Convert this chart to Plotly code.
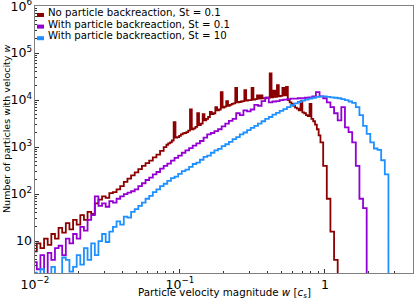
import plotly.graph_objects as go

# Bin centres (particle velocity magnitude w in units of c_s)
W = [0.01, 0.01059, 0.01122, 0.01189, 0.01259, 0.01334, 0.01413, 0.01496, 0.01585, 0.01679,
     0.01778, 0.01884, 0.01995, 0.02113, 0.02239, 0.02371, 0.02512, 0.02661, 0.02818, 0.02985,
     0.03162, 0.0335, 0.03548, 0.03758, 0.03981, 0.04217, 0.04467, 0.04732, 0.05012, 0.05309,
     0.05623, 0.05957, 0.0631, 0.06683, 0.07079, 0.07499, 0.07943, 0.08414, 0.08913, 0.09441,
     0.1, 0.1059, 0.1122, 0.1189, 0.1259, 0.1334, 0.1413, 0.1496, 0.1585, 0.1679,
     0.1778, 0.1884, 0.1995, 0.2113, 0.2239, 0.2371, 0.2512, 0.2661, 0.2818, 0.2985,
     0.3162, 0.335, 0.3548, 0.3758, 0.3981, 0.4217, 0.4467, 0.4732, 0.5012, 0.5309,
     0.5623, 0.5957, 0.631, 0.6683, 0.7079, 0.7499, 0.7943, 0.8414, 0.8913, 0.9441,
     1.0, 1.059, 1.122, 1.189, 1.259, 1.334, 1.413, 1.496, 1.585, 1.679,
     1.778, 1.884, 1.995, 2.113, 2.239, 2.371, 2.512, 2.661, 2.818]

# finer bins used by the no-backreaction run between w = 0.079 and 0.94
W_fine = [0.07943, 0.08175, 0.08414, 0.0866, 0.08913, 0.09173, 0.09441, 0.09716, 0.1, 0.1029,
          0.1059, 0.109, 0.1122, 0.1155, 0.1189, 0.1223, 0.1259, 0.1296, 0.1334, 0.1372,
          0.1413, 0.1454, 0.1496, 0.154, 0.1585, 0.1631, 0.1679, 0.1728, 0.1778, 0.183,
          0.1884, 0.1939, 0.1995, 0.2054, 0.2113, 0.2175, 0.2239, 0.2304, 0.2371, 0.2441,
          0.2512, 0.2585, 0.2661, 0.2738, 0.2818, 0.2901, 0.2985, 0.3073, 0.3162, 0.3255,
          0.335, 0.3447, 0.3548, 0.3652, 0.3758, 0.3868, 0.3981, 0.4097, 0.4217, 0.434,
          0.4467, 0.4597, 0.4732, 0.487, 0.5012, 0.5158, 0.5309, 0.5464, 0.5623, 0.5788,
          0.5957, 0.6131, 0.631, 0.6494, 0.6683, 0.6879, 0.7079, 0.7286, 0.7499, 0.7718,
          0.7943, 0.8175, 0.8414, 0.866, 0.8913, 0.9173, 0.9441]

# log10 of particle counts per bin
red_low_log10 = [0.78, 0.95, 0.85, 1.05, 0.92, 1.15, 1.05, 1.28, 1.18, 1.38,
                 1.25, 1.45, 1.35, 1.55, 1.45, 1.62, 1.58, 1.8, 1.88, 1.95,
                 1.92, 2.02, 2.04, 2.1, 2.17, 2.26, 2.33, 2.4, 2.46, 2.53,
                 2.6, 2.66, 2.71, 2.78, 2.84, 2.92]
red_fine_log10 = [3.0, 3.05, 3.08, 3.1, 3.14, 3.53, 3.2, 3.21, 3.24, 3.27,
                  3.29, 3.3, 3.32, 3.35, 3.8, 3.38, 3.4, 3.43, 3.72, 3.47,
                  3.5, 3.7, 3.57, 3.6, 3.64, 3.75, 3.7, 3.72, 3.85, 3.78,
                  3.8, 4.17, 3.84, 3.86, 3.98, 3.88, 3.9, 3.92, 3.93, 4.26,
                  3.95, 3.96, 3.97, 3.98, 4.21, 3.99, 4.0, 4.0, 4.26, 4.01,
                  4.02, 4.1, 4.03, 4.1, 4.04, 4.04, 4.05, 4.05, 4.57, 4.06,
                  4.2, 4.07, 4.32, 4.08, 4.09, 4.26, 4.1, 4.28, 4.0, 3.95,
                  3.92, 3.88, 3.84, 3.82, 3.78, 3.98, 3.74, 3.72, 3.68, 3.66,
                  3.92, 3.6, 3.55, 3.48, 3.38, 3.25, 3.1]
red_high_log10 = [2.6, 1.9, 1.2, 0.6, 0.0]

purple_log10 = [0.55, 0.4, 0.7, 0.25, 0.75, 0.6, 0.85, 0.9, 0.7, 1.05,
                0.95, 1.15, 1.05, 1.3, 1.22, 1.45, 1.55, 1.95, 1.75, 1.8,
                1.73, 1.85, 1.82, 1.9, 1.95, 2.0, 2.03, 2.06, 2.1, 2.17,
                2.23, 2.3, 2.35, 2.42, 2.47, 2.54, 2.6, 2.65, 2.71, 2.77,
                2.82, 2.88, 2.93, 2.98, 3.03, 3.08, 3.13, 3.2, 3.27, 3.3,
                3.34, 3.38, 3.44, 3.5, 3.56, 3.6, 3.72, 3.68, 3.78, 3.76,
                3.8, 3.9, 3.88, 3.98, 4.05, 3.95, 3.97, 3.98, 4.0, 4.01,
                4.02, 4.03, 4.03, 4.04, 4.04, 4.05, 4.06, 4.08, 4.17, 4.08,
                4.04, 3.95, 3.85, 3.72, 3.57, 3.85, 3.42, 3.32, 3.1, 2.6,
                1.9, 1.7, 0.0]

blue_log10 = [0.33, 0.1, 0.4, 0.1, 0.3, 0.45, 0.1, 0.3, 0.65, 0.6,
              0.35, 0.45, 0.7, 0.5, 0.85, 0.6, 0.95, 0.7, 1.0, 1.15,
              0.98, 1.2, 1.3, 1.42, 1.35, 1.52, 1.5, 1.62, 1.68, 1.75,
              1.82, 1.9, 1.96, 2.04, 2.1, 2.17, 2.22, 2.28, 2.34, 2.37,
              2.43, 2.49, 2.52, 2.58, 2.64, 2.67, 2.73, 2.79, 2.82, 2.88,
              2.93, 2.96, 3.02, 3.06, 3.11, 3.17, 3.21, 3.27, 3.31, 3.36,
              3.41, 3.45, 3.5, 3.55, 3.6, 3.64, 3.69, 3.73, 3.77, 3.81,
              3.85, 3.89, 3.93, 3.96, 3.99, 4.01, 4.03, 4.05, 4.07, 4.08,
              4.08, 4.07, 4.06, 4.05, 4.04, 4.02, 4.0, 3.97, 3.94, 3.85,
              3.68, 3.45, 3.28, 3.1, 2.97, 2.94, 2.72, 2.42, 0.0]

series_names = ["No particle backreaction, St = 0.1",
                "With particle backreaction, St = 0.1",
                "With particle backreaction, St = 10"]
series_colors = ["#8B0000", "#9400D3", "#1E90FF"]

red_w = W[:36] + W_fine + W[80:85]
red_log10 = red_low_log10 + red_fine_log10 + red_high_log10
series_w = [red_w, W[:len(purple_log10)], W[:len(blue_log10)]]
series_log10 = [red_log10, purple_log10, blue_log10]

FONT = "DejaVu Sans"
W_PX, H_PX = 415, 301
L, R, T, B = 35, 2, 6, 28
PW, PH = W_PX - L - R, H_PX - T - B

def px2paper(px, py):
    return (px - L) / PW, (H_PX - B - py) / PH

fig = go.Figure()
for name, col, xs, vals in zip(series_names, series_colors, series_w, series_log10):
    fig.add_trace(go.Scatter(
        x=xs, y=[10 ** v for v in vals], mode="lines", name=name,
        line=dict(color=col, width=1.8, shape="hvh"), showlegend=False))

# manual legend (small patch + text), upper left
shapes, annotations = [], []
for i, (name, col) in enumerate(zip(series_names, series_colors)):
    ty = 12.5 + 11.6 * i
    x0, y0 = px2paper(37, ty + 4.5)
    x1, y1 = px2paper(44, ty + 0.5)
    shapes.append(dict(type="rect", xref="paper", yref="paper", x0=x0, y0=y0, x1=x1, y1=y1,
                       fillcolor=col, line=dict(width=0)))
    ax, ay = px2paper(46, ty)
    annotations.append(dict(text=name, xref="paper", yref="paper", x=ax, y=ay,
                            xanchor="left", yanchor="middle", showarrow=False,
                            font=dict(family=FONT, size=10.2, color="black")))

# axis titles as annotations for exact placement
annotations.append(dict(text="Particle velocity magnitude <i>w</i> [<i>c</i><sub><i>s</i></sub>]",
                        xref="paper", yref="paper", x=px2paper(224, 0)[0], y=px2paper(0, 292.5)[1],
                        xanchor="center", yanchor="middle", showarrow=False,
                        font=dict(family=FONT, size=10.3, color="black")))
annotations.append(dict(text="Number of particles with velocity <i>w</i>",
                        xref="paper", yref="paper", x=px2paper(6, 0)[0], y=px2paper(0, 129)[1],
                        textangle=-90, xanchor="center", yanchor="middle", showarrow=False,
                        font=dict(family=FONT, size=9.5, color="black")))

axis_common = dict(type="log", dtick=1, exponentformat="power", ticks="inside", ticklen=4,
                   tickcolor="#333", showline=True, mirror=True, linecolor="#808080",
                   linewidth=1, showgrid=False, zeroline=False, automargin=False,
                   ticklabeloverflow="allow",
                   tickfont=dict(family=FONT, size=10, color="black"),
                   minor=dict(ticks="inside", ticklen=2, tickcolor="#333", dtick="D1", showgrid=False))

fig.update_layout(
    width=W_PX, height=H_PX,
    margin=dict(l=L, r=R, t=T, b=B, autoexpand=False),
    paper_bgcolor="white", plot_bgcolor="white",
    font=dict(family=FONT, color="black"),
    xaxis=dict(axis_common, range=[-2, 0.607]),
    yaxis=dict(axis_common, range=[0.32, 6.003]),
    shapes=shapes, annotations=annotations,
)

fig.write_html("out.html", config={"displayModeBar": False},
               post_script="document.body.style.margin='0px';")
